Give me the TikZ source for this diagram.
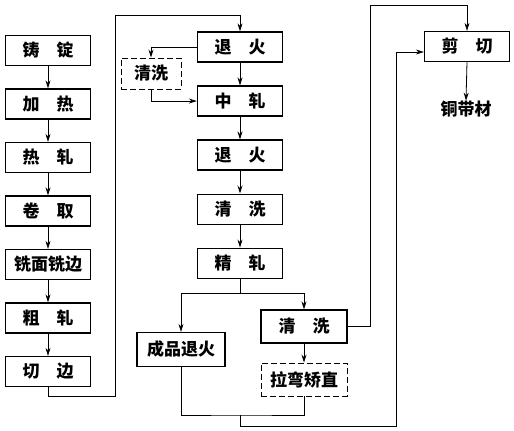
\documentclass[tikz,border=0pt]{standalone}
\usepackage{fontspec}
\usepackage{tikz}
\usetikzlibrary{arrows.meta,positioning}
\newfontfamily\cjk{Noto Sans CJK SC}

\begin{document}
\begin{tikzpicture}[x=1pt,y=-1pt,
  stage/.style={draw,line width=1.3pt,minimum width=85pt,minimum height=30pt,inner sep=0pt,font=\cjk\bfseries\fontsize{17}{20}\selectfont},
  dstage/.style={stage,line width=0.9pt,dash pattern=on 6pt off 3pt},
  note/.style={inner sep=0pt,font=\cjk\bfseries\fontsize{17}{20}\selectfont},
  flow/.style={line width=0.8pt,-{Stealth[length=8pt,width=5pt]}},
  link/.style={line width=0.8pt}
]
\useasboundingbox (0,0) rectangle (514,431);
% left column
\node[stage] (zd) at (48,50.5) {铸\hspace{1em}锭};
\node[stage,below=22.2pt of zd] (jr) {加\hspace{1em}热};
\node[stage,below=22.2pt of jr] (rz) {热\hspace{1em}轧};
\node[stage,below=22.2pt of rz] (jq) {卷\hspace{1em}取};
\node[stage,below=22.2pt of jq] (xm) {铣面铣边};
\node[stage,below=22.2pt of xm] (cz) {粗\hspace{1em}轧};
\node[stage,below=22.2pt of cz] (qb) {切\hspace{1em}边};
% middle column
\node[stage] (th1) at (240,47) {退\hspace{1em}火};
\node[stage,below=22.75pt of th1] (zz) {中\hspace{1em}轧};
\node[stage,below=22.75pt of zz] (th2) {退\hspace{1em}火};
\node[stage,below=22.75pt of th2] (qx1) {清\hspace{1em}洗};
\node[stage,below=22.75pt of qx1] (jz) {精\hspace{1em}轧};
\node[dstage,minimum width=60pt,minimum height=31pt] (qxd) at (151,73.5) {清洗};
% finishing
\node[stage,minimum width=88pt,minimum height=34pt] (cpth) at (181,349.5) {成品退火};
\node[stage,minimum width=86pt,minimum height=33pt] (qx2) at (304,326.5) {清\hspace{1em}洗};
\node[dstage,minimum width=86pt,minimum height=33pt] (lwjz) at (304,379.5) {拉弯矫直};
\node[stage] (jian) at (467,46.5) {剪\hspace{1em}切};
\node[note] (tdc) at (466,109) {铜带材};

\coordinate (c1) at (115,396);
\coordinate (c2) at (115,15);
\coordinate (fork) at (240,293);
\coordinate (c3) at (370,5);
\coordinate (merge) at (240,415);
\coordinate (c5) at (396,426);

\foreach \a/\b in {zd/jr,jr/rz,rz/jq,jq/xm,xm/cz,cz/qb,th1/zz,zz/th2,th2/qx1,qx1/jz,qx2/lwjz,jian/tdc}
  \draw[flow] (\a.south) -- (\b.north);
\draw[flow] (qb.south) |- (c1) -- (c2) -| (th1.north);
\draw[flow] (th1.west) -| (qxd.north);
\draw[flow] (qxd.south) |- (zz.west);
\draw[link] (jz.south) -- (fork);
\draw[flow] (fork) -| (cpth.north);
\draw[flow] (fork) -| (qx2.north);
\draw[flow] (qx2.east) -| (c3) -| (jian.north);
\draw[link] (cpth.south) |- (merge) -| (lwjz.south);
\draw[flow] (merge) |- (c5) |- ([yshift=-5.5pt]jian.west);
\end{tikzpicture}
\end{document}
